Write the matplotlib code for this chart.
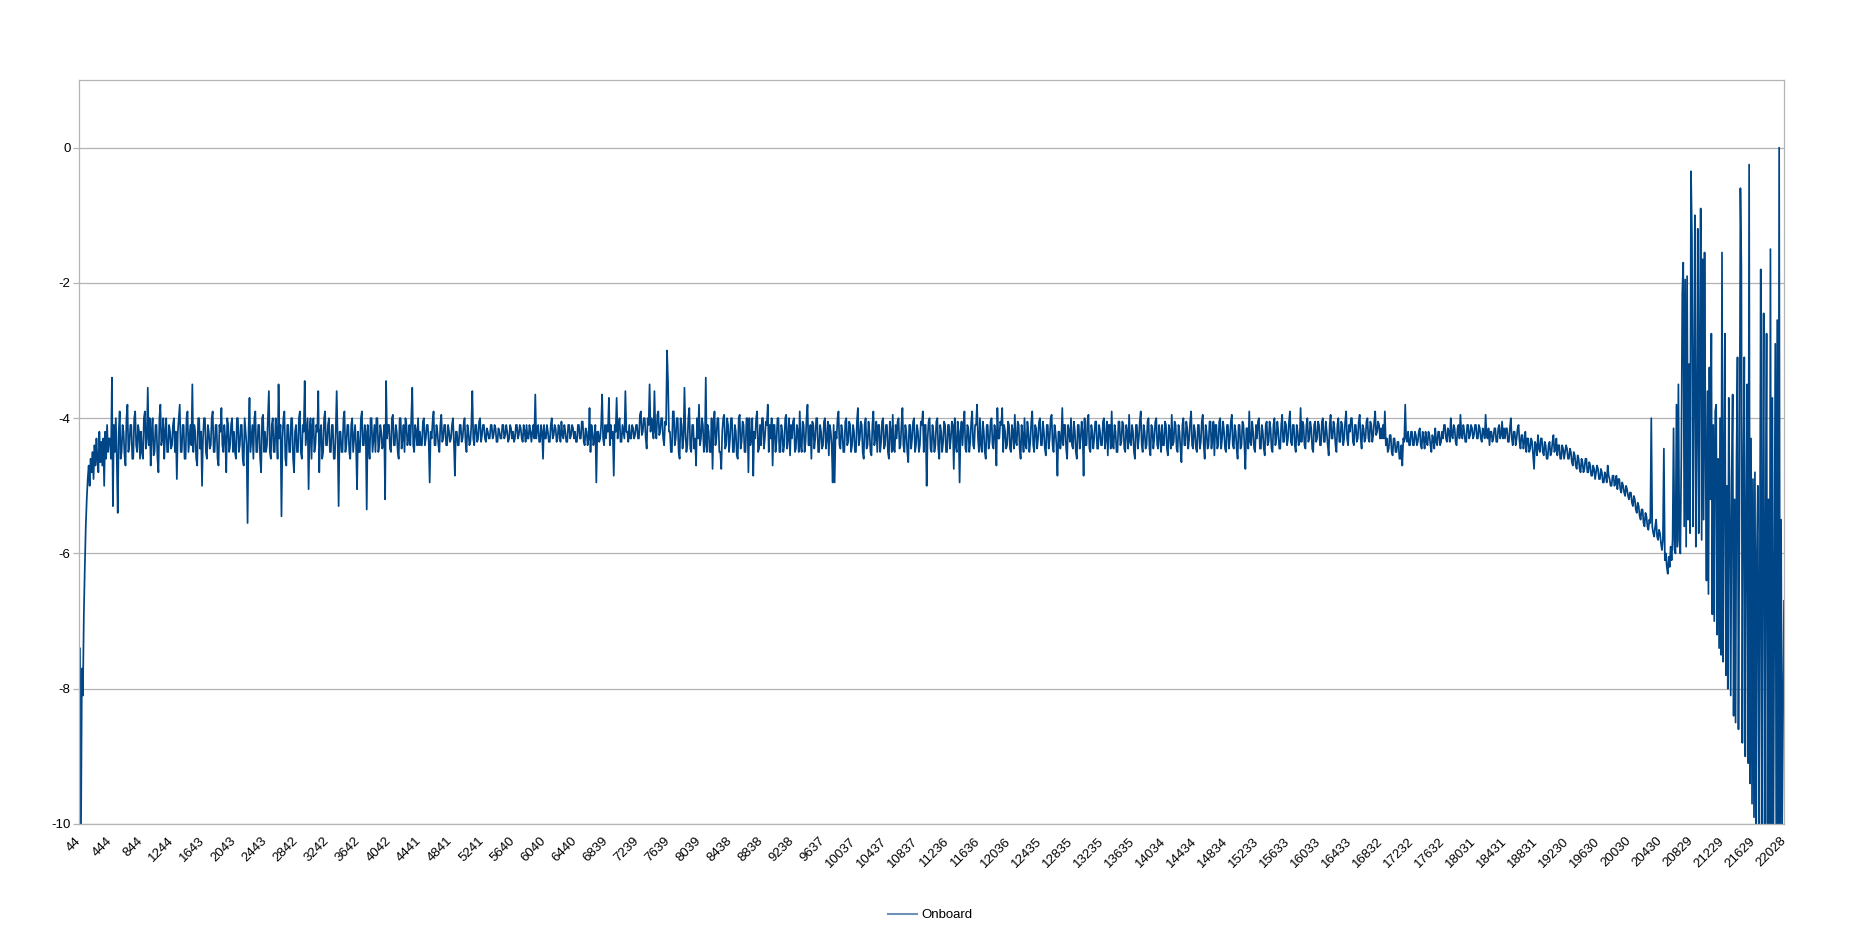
import matplotlib
matplotlib.use("Agg")
import matplotlib.pyplot as plt
from matplotlib.lines import Line2D
import numpy as np

plt.rcParams['font.family'] = ['Liberation Sans', 'DejaVu Sans']
plt.rcParams['axes.unicode_minus'] = False

series_name = "Onboard"

freq_labels = [44, 444, 844, 1244, 1643, 2043, 2443, 2842, 3242, 3642, 4042,
               4441, 4841, 5241, 5640, 6040, 6440, 6839, 7239, 7639, 8039,
               8438, 8838, 9238, 9637, 10037, 10437, 10837, 11236, 11636,
               12036, 12435, 12835, 13235, 13635, 14034, 14434, 14834, 15233,
               15633, 16033, 16433, 16832, 17232, 17632, 18031, 18431, 18831,
               19230, 19630, 20030, 20430, 20829, 21229, 21629, 22028]

y_ticks = [0, -2, -4, -6, -8, -10]

# level values, 32 samples per labelled step
onboard_db = [
    -10.5, -7.4, -10.3, -7.7, -8.1, -6.9, -6.2, -5.6, -5.2, -4.9, -4.7, -5.0, -4.6, -4.8, -4.5, -4.9, -4.4, -4.7, -4.3, -4.6, -4.8, -4.2, -4.65, -4.35, -4.7, -4.3, -5.0, -4.2, -4.6, -4.1, -4.5, -4.3,
    -4.3, -4.6, -3.4, -5.3, -4.1, -4.5, -4.0, -4.6, -5.4, -4.2, -3.9, -4.6, -4.5, -4.1, -4.2, -4.55, -4.7, -4.0, -3.8, -4.5, -4.4, -4.1, -4.1, -4.6, -4.6, -4.0, -3.9, -4.4, -4.5, -4.1, -4.2, -4.6,
    -4.2, -4.5, -4.6, -4.0, -3.9, -4.45, -4.3, -3.55, -4.4, -4.0, -4.7, -4.2, -4.0, -4.55, -4.5, -4.1, -4.1, -4.6, -4.8, -4.0, -3.8, -4.4, -4.3, -4.0, -4.6, -4.2, -4.0, -4.5, -4.5, -4.1, -4.2, -4.45,
    -4.4, -4.1, -4.0, -4.5, -4.2, -4.9, -4.2, -4.0, -3.8, -4.5, -4.5, -4.1, -4.1, -4.6, -4.6, -4.0, -3.9, -4.5, -4.3, -4.1, -4.4, -3.5, -4.5, -4.1, -4.2, -4.6, -4.7, -4.0, -4.0, -4.45, -4.2, -5.0,
    -4.3, -4.0, -4.0, -4.5, -4.6, -4.1, -4.2, -4.45, -4.4, -4.0, -3.9, -4.5, -4.5, -4.1, -4.1, -4.6, -4.7, -4.1, -4.2, -3.85, -4.4, -4.5, -4.1, -4.3, -4.8, -4.0, -4.1, -4.5, -4.4, -4.1, -4.0, -4.5,
    -4.2, -4.5, -4.6, -4.0, -4.0, -4.5, -4.4, -4.1, -4.1, -4.6, -4.7, -4.0, -4.2, -4.4, -5.55, -4.2, -3.7, -4.5, -4.3, -4.1, -4.6, -4.0, -3.9, -4.5, -4.5, -4.1, -4.1, -4.6, -4.8, -4.0, -3.95, -4.5,
    -4.2, -4.5, -4.4, -4.0, -3.6, -4.5, -4.6, -4.1, -4.0, -4.5, -4.5, -4.0, -4.2, -4.6, -3.5, -4.3, -4.1, -5.45, -4.3, -4.0, -3.9, -4.6, -4.7, -4.1, -4.1, -4.5, -4.5, -4.0, -4.0, -4.6, -4.8, -4.2,
    -4.1, -4.5, -4.5, -4.0, -3.9, -4.5, -4.6, -4.1, -4.2, -3.45, -4.4, -4.2, -4.0, -5.05, -4.2, -4.0, -4.6, -4.1, -4.0, -4.5, -4.4, -4.1, -4.2, -3.6, -4.8, -4.2, -4.1, -4.6, -4.5, -4.0, -3.9, -4.4,
    -4.4, -4.1, -4.0, -4.5, -4.5, -4.1, -4.1, -4.6, -4.6, -4.2, -3.6, -4.3, -5.3, -4.2, -4.2, -4.5, -4.5, -4.0, -3.9, -4.5, -4.4, -4.1, -4.1, -4.5, -4.6, -4.1, -4.0, -4.5, -4.3, -4.1, -4.4, -5.05,
    -4.2, -4.5, -4.5, -4.0, -3.9, -4.4, -4.4, -4.1, -4.2, -5.35, -4.1, -4.4, -4.6, -4.0, -4.0, -4.5, -4.3, -4.1, -4.5, -4.0, -4.0, -4.5, -4.4, -4.1, -4.2, -4.45, -4.4, -4.1, -5.2, -3.45, -4.3, -4.1,
    -4.1, -4.45, -4.5, -4.0, -3.95, -4.4, -4.4, -4.1, -4.2, -4.5, -4.6, -4.0, -4.0, -4.45, -4.3, -4.1, -4.5, -4.0, -4.1, -4.4, -4.3, -4.1, -4.4, -4.0, -3.55, -4.4, -4.5, -4.1, -4.2, -4.4, -4.0, -4.4,
    -4.2, -4.4, -4.4, -4.05, -4.0, -4.4, -4.3, -4.1, -4.1, -4.35, -4.95, -4.2, -4.3, -4.05, -3.9, -4.4, -4.4, -4.1, -4.2, -4.4, -4.5, -4.1, -3.95, -4.35, -4.3, -4.1, -4.1, -4.4, -4.4, -4.1, -4.2, -4.35,
    -4.3, -4.1, -4.0, -4.35, -4.85, -4.2, -4.2, -4.4, -4.4, -4.1, -4.1, -4.35, -4.3, -4.1, -4.0, -4.35, -4.5, -4.1, -4.2, -4.4, -4.35, -4.1, -3.6, -4.3, -4.4, -4.1, -4.1, -4.35, -4.3, -4.05, -4.0, -4.35,
    -4.25, -4.1, -4.1, -4.3, -4.35, -4.15, -4.2, -4.3, -4.3, -4.1, -4.1, -4.3, -4.25, -4.1, -4.15, -4.35, -4.35, -4.15, -4.2, -4.3, -4.3, -4.1, -4.1, -4.3, -4.25, -4.1, -4.2, -4.35, -4.3, -4.1, -4.15, -4.3,
    -4.2, -4.35, -4.3, -4.1, -4.1, -4.3, -4.25, -4.1, -4.15, -4.3, -4.35, -4.1, -4.2, -4.35, -4.1, -4.3, -4.3, -4.1, -4.2, -4.35, -4.2, -4.1, -4.3, -3.65, -4.3, -4.15, -4.1, -4.35, -4.35, -4.1, -4.2, -4.6,
    -4.1, -4.3, -4.3, -4.1, -4.2, -4.35, -4.35, -4.1, -4.0, -4.3, -4.25, -4.1, -4.15, -4.35, -4.3, -4.1, -4.2, -4.35, -4.05, -4.25, -4.3, -4.1, -4.2, -4.35, -4.35, -4.1, -4.1, -4.3, -4.25, -4.1, -4.15, -4.3,
    -4.2, -4.35, -4.35, -4.1, -4.1, -4.3, -4.3, -4.05, -4.05, -4.35, -4.4, -4.15, -4.2, -4.4, -4.3, -3.85, -4.5, -4.1, -4.2, -4.4, -4.3, -4.1, -4.95, -4.2, -4.2, -4.35, -4.3, -4.1, -3.65, -4.3, -4.4, -4.1,
    -4.3, -4.1, -4.2, -3.7, -4.4, -4.1, -4.3, -4.2, -4.85, -4.1, -4.2, -3.7, -4.3, -4.1, -4.0, -4.35, -4.35, -4.1, -4.2, -4.3, -3.6, -4.2, -4.2, -4.35, -4.1, -4.3, -4.3, -4.1, -4.15, -4.3, -4.25, -4.1,
    -4.1, -4.3, -4.3, -3.95, -3.9, -4.25, -4.2, -4.0, -4.0, -4.3, -4.45, -4.0, -4.1, -3.5, -4.2, -4.0, -4.1, -4.3, -3.6, -4.2, -4.3, -3.95, -3.9, -4.25, -4.2, -4.0, -4.0, -4.3, -4.4, -4.05, -4.1, -3.0,
    -3.45, -4.2, -4.2, -4.5, -4.5, -3.9, -3.9, -4.4, -4.3, -4.0, -4.0, -4.5, -4.6, -4.0, -4.1, -4.45, -4.3, -3.55, -4.2, -4.5, -4.4, -4.0, -3.85, -4.45, -4.5, -4.1, -4.1, -4.45, -4.3, -4.7, -4.0, -4.3,
    -3.8, -4.4, -4.3, -4.0, -4.1, -4.5, -4.4, -3.4, -4.5, -4.1, -4.2, -4.5, -4.5, -4.0, -4.75, -4.1, -3.9, -4.4, -4.3, -4.0, -4.0, -4.5, -4.5, -4.75, -4.2, -4.0, -3.95, -4.45, -4.4, -4.0, -4.1, -4.5,
    -4.3, -4.0, -4.0, -4.5, -4.5, -4.1, -4.2, -4.55, -4.6, -4.0, -3.95, -4.45, -4.35, -4.05, -4.1, -4.5, -4.5, -4.0, -4.0, -4.8, -4.0, -4.4, -4.3, -4.0, -4.85, -4.2, -4.3, -4.0, -3.9, -4.5, -4.45, -4.1,
    -4.4, -4.0, -4.0, -4.45, -4.3, -4.05, -4.1, -3.8, -4.5, -4.1, -4.3, -4.0, -4.7, -4.1, -4.1, -4.5, -4.35, -4.0, -4.0, -4.5, -4.5, -4.1, -4.2, -4.5, -4.4, -4.0, -3.95, -4.45, -4.3, -4.0, -4.55, -4.1,
    -4.3, -4.05, -4.0, -4.5, -4.45, -4.1, -4.2, -4.5, -3.9, -4.4, -4.5, -4.05, -4.1, -4.5, -4.35, -4.0, -3.8, -4.4, -4.4, -4.1, -4.6, -4.05, -4.1, -4.45, -4.3, -4.0, -4.0, -4.5, -4.5, -4.1, -4.2, -4.45,
    -4.4, -4.05, -4.0, -4.45, -4.3, -4.05, -4.55, -4.1, -4.2, -4.4, -4.95, -4.1, -4.95, -4.2, -4.3, -4.0, -3.9, -4.4, -4.45, -4.1, -4.2, -4.5, -4.5, -4.05, -4.0, -4.4, -4.35, -4.05, -4.1, -4.5, -4.4, -4.1,
    -4.2, -4.5, -4.5, -4.05, -3.85, -4.4, -4.3, -4.05, -4.1, -4.5, -4.6, -4.1, -4.0, -4.45, -4.4, -4.05, -4.2, -4.5, -4.55, -4.1, -3.9, -4.4, -4.3, -4.05, -4.5, -4.1, -4.1, -4.5, -4.35, -4.05, -4.0, -4.45,
    -4.4, -4.1, -4.1, -4.5, -4.6, -4.05, -4.2, -4.5, -3.95, -4.45, -4.5, -4.1, -4.3, -4.05, -4.0, -4.45, -4.4, -4.1, -3.85, -4.4, -4.5, -4.1, -4.2, -4.5, -4.65, -4.1, -4.1, -4.45, -4.3, -4.05, -4.0, -4.5,
    -4.4, -4.1, -4.2, -4.5, -4.4, -4.05, -4.1, -3.9, -4.5, -4.1, -4.1, -5.0, -4.3, -4.05, -4.0, -4.45, -4.5, -4.1, -4.2, -4.5, -4.4, -4.05, -4.0, -4.45, -4.6, -4.1, -4.2, -4.5, -4.35, -4.05, -4.1, -4.5,
    -4.5, -4.1, -4.1, -4.45, -4.3, -4.05, -4.1, -4.75, -4.0, -4.4, -4.5, -4.05, -4.2, -4.95, -4.2, -4.05, -4.4, -4.1, -3.9, -4.45, -4.5, -4.1, -4.15, -4.5, -4.35, -4.05, -3.9, -4.4, -4.45, -4.1, -4.1, -3.8,
    -4.3, -4.5, -4.0, -4.4, -4.5, -4.05, -4.2, -4.5, -4.6, -4.1, -4.1, -4.45, -4.35, -4.05, -4.0, -4.4, -4.45, -4.1, -4.2, -4.7, -3.85, -4.3, -4.3, -4.05, -4.1, -3.85, -4.5, -4.1, -4.2, -4.45, -4.4, -4.05,
    -4.1, -4.45, -4.5, -4.1, -4.2, -4.45, -3.95, -4.35, -4.4, -4.05, -4.1, -4.45, -4.6, -4.1, -4.25, -4.5, -4.0, -4.4, -4.45, -4.05, -4.2, -4.5, -4.35, -4.05, -3.9, -4.4, -4.5, -4.1, -4.15, -4.45, -4.3, -4.05,
    -4.0, -4.4, -4.4, -4.05, -4.2, -4.45, -4.55, -4.1, -4.1, -4.45, -4.3, -4.0, -3.95, -4.4, -4.5, -4.1, -4.2, -4.4, -4.85, -4.2, -4.2, -4.45, -4.3, -3.85, -4.4, -4.1, -4.1, -4.45, -4.6, -4.1, -4.2, -4.35,
    -4.0, -4.4, -4.45, -4.05, -4.2, -4.5, -4.6, -4.1, -4.1, -4.45, -4.3, -4.05, -4.2, -4.85, -4.0, -4.4, -4.4, -4.05, -3.95, -4.45, -4.5, -4.1, -4.2, -4.45, -4.3, -4.05, -4.05, -4.45, -4.45, -4.1, -4.2, -4.4,
    -4.4, -4.05, -4.0, -4.45, -4.3, -4.05, -4.55, -4.1, -4.1, -4.45, -3.9, -4.4, -4.45, -4.1, -4.2, -4.5, -4.5, -4.05, -4.05, -4.4, -4.35, -4.05, -4.1, -4.45, -4.5, -4.1, -4.2, -4.45, -3.95, -4.35, -4.4, -4.1,
    -4.2, -4.5, -4.6, -4.1, -4.1, -4.45, -4.3, -4.05, -3.9, -4.4, -4.5, -4.1, -4.2, -4.45, -4.4, -4.05, -4.0, -4.45, -4.55, -4.1, -4.15, -4.45, -4.3, -4.05, -4.0, -4.4, -4.45, -4.1, -4.25, -4.5, -4.1, -4.4,
    -4.4, -4.05, -4.1, -4.45, -4.55, -4.1, -4.2, -4.45, -3.95, -4.4, -4.35, -4.05, -4.1, -4.45, -4.5, -4.1, -4.2, -4.45, -4.65, -4.1, -4.0, -4.4, -4.4, -4.05, -4.15, -4.45, -4.3, -4.05, -3.9, -4.4, -4.45, -4.1,
    -4.2, -4.45, -4.5, -4.1, -4.1, -4.45, -4.35, -4.05, -3.95, -4.4, -4.6, -4.1, -4.2, -4.45, -4.4, -4.05, -4.05, -4.45, -4.3, -4.05, -4.55, -4.1, -4.1, -4.45, -4.4, -4.05, -4.0, -4.45, -4.3, -4.05, -4.2, -4.45,
    -4.5, -4.1, -4.1, -4.45, -4.3, -4.05, -3.95, -4.4, -4.45, -4.1, -4.2, -4.45, -4.6, -4.1, -4.1, -4.45, -4.4, -4.05, -4.1, -4.4, -4.75, -4.15, -4.15, -4.45, -3.9, -4.35, -4.4, -4.05, -4.2, -4.45, -4.5, -4.1,
    -4.3, -4.05, -4.0, -4.45, -4.45, -4.1, -4.2, -4.45, -4.55, -4.1, -4.05, -4.4, -4.35, -4.05, -4.15, -4.45, -4.5, -4.1, -4.0, -4.4, -4.3, -4.05, -4.2, -4.45, -4.45, -4.1, -3.95, -4.35, -4.35, -4.05, -4.1, -4.4,
    -4.3, -4.05, -3.9, -4.35, -4.4, -4.1, -4.1, -4.4, -4.5, -4.1, -4.2, -4.4, -4.35, -3.85, -4.35, -4.05, -4.1, -4.4, -4.45, -4.1, -4.0, -4.35, -4.3, -4.05, -4.15, -4.45, -4.5, -4.1, -4.05, -4.35, -4.3, -4.05,
    -4.1, -4.4, -4.4, -4.05, -4.0, -4.35, -4.35, -4.05, -4.2, -4.4, -4.55, -4.1, -3.95, -4.3, -4.3, -4.05, -4.15, -4.4, -4.5, -4.1, -4.0, -4.35, -4.35, -4.05, -4.1, -4.4, -4.3, -4.05, -3.9, -4.3, -4.4, -4.1,
    -4.2, -4.0, -4.0, -4.35, -4.4, -4.1, -4.1, -4.35, -4.3, -4.05, -3.95, -4.3, -4.45, -4.1, -4.15, -4.35, -4.3, -4.05, -4.0, -4.3, -4.35, -4.05, -4.1, -4.35, -4.25, -4.05, -3.9, -4.25, -4.2, -4.05, -4.1, -4.3,
    -4.15, -4.3, -4.1, -4.3, -3.9, -4.4, -4.3, -4.5, -4.45, -4.25, -4.25, -4.5, -4.55, -4.3, -4.3, -4.5, -4.5, -4.35, -4.35, -4.6, -4.6, -4.4, -4.7, -4.3, -4.35, -3.8, -4.3, -4.35, -4.2, -4.4, -4.4, -4.2,
    -4.2, -4.4, -4.4, -4.2, -4.25, -4.4, -4.35, -4.2, -4.15, -4.4, -4.45, -4.2, -4.3, -4.45, -4.2, -4.35, -4.4, -4.2, -4.25, -4.4, -4.5, -4.25, -4.3, -4.45, -4.15, -4.35, -4.4, -4.2, -4.2, -4.4, -4.35, -4.2,
    -4.3, -4.1, -4.1, -4.3, -4.35, -4.15, -4.2, -4.35, -4.0, -4.25, -4.3, -4.1, -4.15, -4.35, -4.4, -4.15, -4.1, -4.3, -3.95, -4.25, -4.3, -4.1, -4.2, -4.35, -4.35, -4.1, -4.1, -4.3, -4.25, -4.1, -4.15, -4.3,
    -4.25, -4.1, -4.1, -4.3, -4.3, -4.1, -4.15, -4.3, -4.35, -4.15, -4.2, -4.3, -3.95, -4.25, -4.3, -4.15, -4.4, -4.2, -4.2, -4.35, -4.3, -4.15, -4.15, -4.35, -4.35, -4.15, -4.1, -4.3, -4.25, -4.05, -4.3, -4.15,
    -4.3, -4.15, -4.15, -4.35, -4.35, -4.15, -4.0, -4.3, -4.4, -4.2, -4.2, -4.4, -4.3, -4.15, -4.1, -4.35, -4.45, -4.25, -4.25, -4.45, -4.35, -4.2, -4.5, -4.3, -4.3, -4.5, -4.45, -4.3, -4.35, -4.55, -4.75, -4.35,
    -4.4, -4.55, -4.25, -4.45, -4.5, -4.3, -4.3, -4.5, -4.55, -4.35, -4.4, -4.6, -4.6, -4.4, -4.35, -4.55, -4.5, -4.35, -4.25, -4.5, -4.45, -4.3, -4.55, -4.4, -4.4, -4.6, -4.6, -4.4, -4.45, -4.6, -4.5, -4.4,
    -4.45, -4.6, -4.6, -4.45, -4.5, -4.65, -4.7, -4.5, -4.55, -4.7, -4.75, -4.55, -4.6, -4.75, -4.8, -4.6, -4.65, -4.8, -4.75, -4.6, -4.6, -4.8, -4.8, -4.65, -4.7, -4.85, -4.85, -4.7, -4.75, -4.9, -4.8, -4.7,
    -4.75, -4.9, -4.9, -4.75, -4.8, -4.95, -4.95, -4.8, -4.85, -4.95, -4.7, -4.85, -4.9, -5.0, -5.0, -4.85, -4.85, -5.0, -4.95, -4.85, -5.05, -4.9, -4.9, -5.05, -5.1, -4.95, -5.0, -5.1, -5.15, -5.0, -5.05, -5.15,
    -5.2, -5.1, -5.1, -5.25, -5.3, -5.15, -5.2, -5.35, -5.4, -5.25, -5.3, -5.45, -5.5, -5.35, -5.35, -5.55, -5.6, -5.4, -5.45, -5.6, -5.65, -5.5, -5.55, -4.0, -5.6, -5.7, -5.75, -5.6, -5.5, -5.75, -5.8, -5.65,
    -5.7, -5.85, -5.95, -5.8, -4.45, -6.1, -6.0, -6.2, -6.3, -6.05, -6.2, -5.9, -6.1, -5.8, -4.15, -5.95, -6.0, -3.8, -5.9, -3.5, -5.8, -6.0, -4.6, -2.15, -1.7, -5.6, -1.95, -5.9, -1.9, -5.5, -3.2, -5.7,
    -0.35, -1.3, -5.6, -3.5, -1.0, -5.9, -4.2, -1.2, -5.7, -3.0, -0.9, -5.8, -1.65, -5.5, -1.55, -4.5, -6.4, -3.6, -6.6, -3.25, -5.2, -2.75, -6.9, -4.1, -7.0, -3.9, -3.8, -7.2, -4.6, -7.4, -4.0, -7.5,
    -1.55, -7.6, -4.8, -2.75, -7.8, -5.0, -8.0, -3.7, -5.5, -8.1, -4.9, -3.65, -8.4, -5.2, -8.5, -4.6, -3.1, -8.6, -5.4, -0.6, -1.75, -8.8, -5.0, -3.1, -9.0, -5.6, -3.5, -9.1, -0.25, -9.4, -4.3, -9.7,
    -4.9, -9.9, -4.8, -10.3, -6.0, -5.0, -10.5, -6.5, -1.8, -10.4, -5.5, -2.45, -10.6, -6.0, -2.75, -10.3, -5.2, -10.5, -1.5, -10.2, -3.7, -10.4, -6.5, -2.9, -10.5, -2.55, -10.3, 0.0, -10.4, -5.5, -10.2, -8.5,
    -6.7,
]

line_color = "#004586"
grid_color = "#b3b3b3"

fig = plt.figure(figsize=(18.61, 9.33), dpi=100)
ax = fig.add_axes([79 / 1861, 1 - 824 / 933, (1784 - 79) / 1861, (824 - 80) / 933])

n = len(onboard_db)
x = np.arange(n)
ax.plot(x, onboard_db, color=line_color, linewidth=1.25)

ax.set_xlim(0, n - 1)
ax.set_ylim(-10, 1)
ax.set_xticks(np.linspace(0, n - 1, len(freq_labels)))
ax.set_xticklabels([str(v) for v in freq_labels])
ax.set_yticks(y_ticks)
ax.set_yticklabels([str(v) for v in y_ticks])

ax.grid(axis='y', color=grid_color, linewidth=0.9)
ax.set_axisbelow(True)
for s in ax.spines.values():
    s.set_color(grid_color)
    s.set_linewidth(0.9)

ax.tick_params(axis='y', length=4, width=0.9, color=grid_color, labelsize=9.5, pad=2, labelcolor='black')
ax.tick_params(axis='x', length=0, labelsize=9.5, pad=11, labelcolor='black')
plt.setp(ax.get_xticklabels(), rotation=45, ha='right', va='center', rotation_mode='anchor')

handle = Line2D([0], [0], color='#6f93b8', linewidth=1.5)
fig.legend([handle], [series_name], loc='center', bbox_to_anchor=(0.5, 1 - 915 / 933),
           frameon=False, fontsize=9.5, handlelength=2.2, handletextpad=0.3)

fig.savefig("out.png", dpi=100, facecolor='white')
